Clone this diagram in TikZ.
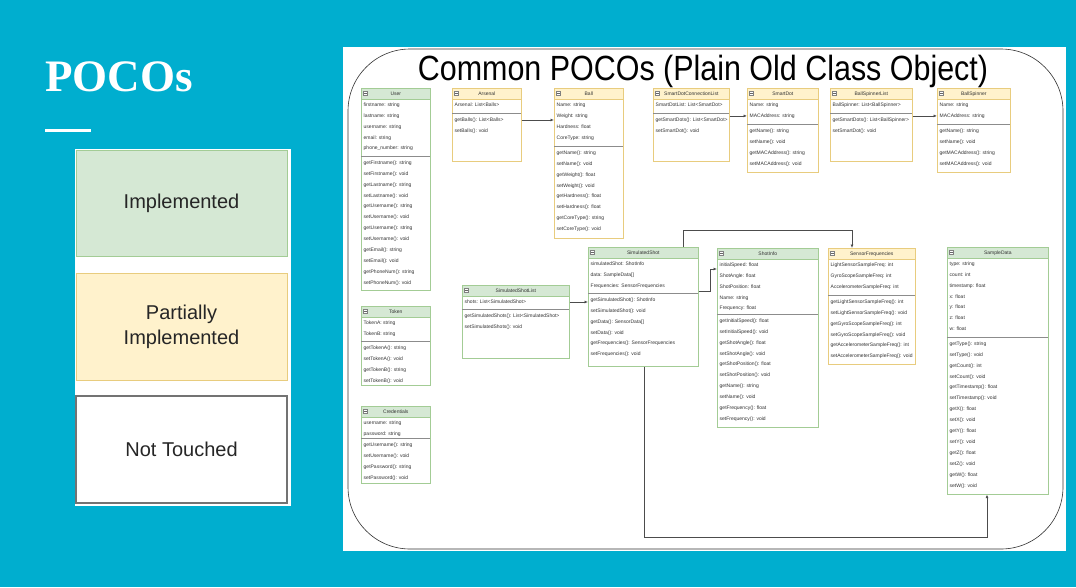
\documentclass[tikz,border=0pt]{standalone}
\usepackage{fontspec}
\usepackage{graphicx}
\setmainfont{Liberation Sans}
\newfontfamily\pocoserif{Liberation Serif}
\usetikzlibrary{arrows.meta,calc}

\definecolor{slidebg}{HTML}{00AECF}
\definecolor{grnfill}{HTML}{D5E8D4}
\definecolor{grnline}{HTML}{A3CC95}
\definecolor{ylwfill}{HTML}{FFF2CC}
\definecolor{ylwline}{HTML}{E8CC7E}
\definecolor{txt}{HTML}{333333}

\tikzset{
  clsbox/.style={draw=#1line, fill=white, line width=0.6, inner sep=0, anchor=north west},
  clshead/.style={draw=#1line, fill=#1fill, line width=0.6, inner sep=0, anchor=north west,
    minimum height=11, font=\fontsize{5}{6}\selectfont, text=txt},
  rowtext/.style={inner sep=0, anchor=west, font=\fontsize{5}{6}\selectfont, text=txt,
    text height=3.6, text depth=1},
  divline/.style={draw=black!45, line width=0.7},
  conn/.style={draw=black!70, line width=0.7, -{Latex[length=3.5,width=3]}},
  legbox/.style={inner sep=0, line width=1, font=\fontsize{20}{25}\selectfont, text=black!85,
    align=center},
}

\newcommand\umlclass[8]{%
  \def\uid{#1}\def\ucol{#2}\def\uxl{#3}\def\uxr{#4}\def\uyt{#5}\def\uyd{#6}\def\uyb{#7}\def\utitle{#8}%
  \umlclassrows}
\newcommand\umlclassrows[2]{%
  \pgfmathsetmacro\uw{\uxr-\uxl}\pgfmathsetmacro\uh{\uyb-\uyt}%
  \node[clsbox=\ucol, minimum width=\uw, minimum height=\uh] (\uid) at (\uxl,\uyt) {};
  \node[clshead=\ucol, minimum width=\uw] (\uid-h) at (\uxl,\uyt) {\utitle};
  \draw[fill=white, draw=black!50, line width=0.4] (\uxl+2.5,\uyt+3) rectangle (\uxl+6.5,\uyt+7);
  \draw[black!60, line width=0.5] (\uxl+3.3,\uyt+5) -- (\uxl+5.7,\uyt+5);
  \draw[divline] (\uxl,\uyd) -- (\uxr,\uyd);
  \foreach \t [count=\i] in {#1} \node[rowtext] (\uid-a\i) at (\uxl+2.5, {\uyt+17+(\i-1)*10.9}) {\t};
  \foreach \t [count=\i] in {#2} \node[rowtext] (\uid-m\i) at (\uxl+2.5, {\uyd+7+(\i-1)*10.9}) {\t};
}

\begin{document}
\begin{tikzpicture}[x=1pt,y=-1pt]
\useasboundingbox (0,0) rectangle (1076,587);
\fill[slidebg] (0,0) rectangle (1076,587);

% left side
\node[anchor=base west, text=white, font=\pocoserif\bfseries\fontsize{45}{50}\selectfont, inner sep=0] (pocos) at (45,91) {POCOs};
\fill[white] (45,129) rectangle (91,132);
\fill[white] (75,149) rectangle (291,506);
\node[legbox, fill=grnfill, draw=grnline, minimum width=211, minimum height=106] (impl) at (181.5,203) {Implemented};
\node[legbox, fill=ylwfill, draw=ylwline, minimum width=211, minimum height=107] (partial) at (181.5,326.5) {Partially\\Implemented};
\node[legbox, fill=white, draw=black!55, line width=1.5, minimum width=211, minimum height=107] (nottouched) at (181.5,449.5) {Not Touched};

% diagram panel
\fill[white] (343,47) rectangle (1066,551);
\draw[black!80, line width=0.6, rounded corners=62] (348,49) rectangle (1063,549);
\node[inner sep=0, text=black] (title) at (703,71) {\fontsize{35}{40}\selectfont\scalebox{0.87}[1]{Common POCOs (Plain Old Class Object)}};

\umlclass{user}{grn}{361}{430}{88}{156}{290}{User}
  {firstname: string, lastname: string, username: string, email: string, phone\_number: string}
  {getFirstname(): string, setFirstname(): void, getLastname(): string, setLastname(): void, getUsername(): string, setUsername(): void, getUsername(): string, setUsername(): void, getEmail(): string, setEmail(): void, getPhoneNum(): string, setPhoneNum(): void}

\umlclass{arsenal}{ylw}{452}{521}{88}{113}{161}{Arsenal}
  {Arsenal: List<Balls>}
  {getBalls(): List<Balls>, setBalls(): void}

\umlclass{ball}{ylw}{554}{623}{88}{146}{238}{Ball}
  {Name: string, Weight: string, Hardness: float, CoreType: string}
  {getName(): string, setName(): void, getWeight(): float, setWeight(): void, getHardness(): float, setHardness(): float, getCoreType(): string, setCoreType(): void}

\umlclass{sdcl}{ylw}{653}{729}{88}{113}{161}{SmartDotConnectionList}
  {SmartDotList: List<SmartDot>}
  {getSmartDots(): List<SmartDot>, setSmartDot(): void}

\umlclass{smartdot}{ylw}{747}{818}{88}{124}{172}{SmartDot}
  {Name: string, MACAddress: string}
  {getName(): string, setName(): void, getMACAddress(): string, setMACAddress(): void}

\umlclass{bsl}{ylw}{830}{912}{88}{113}{161}{BallSpinnerList}
  {BallSpinner: List<BallSpinner>}
  {getSmartDots(): List<BallSpinner>, setSmartDot(): void}

\umlclass{ballspinner}{ylw}{937}{1010}{88}{124}{172}{BallSpinner}
  {Name: string, MACAddress: string}
  {getName(): string, setName(): void, getMACAddress(): string, setMACAddress(): void}

\umlclass{token}{grn}{361}{430}{306}{341}{385}{Token}
  {TokenA: string, TokenB: string}
  {getTokenA(): string, setTokenA(): void, getTokenB(): string, setTokenB(): void}

\umlclass{cred}{grn}{361}{430}{406}{438}{483}{Credentials}
  {username: string, password: string}
  {getUsername(): string, setUsername(): void, getPassword(): string, setPassword(): void}

\umlclass{ssl}{grn}{462}{569}{285}{309}{358}{SimulatedShotList}
  {shots: List<SimulatedShot>}
  {getSimulatedShots(): List<SimulatedShot>, setSimulatedShots(): void}

\umlclass{simshot}{grn}{588}{698}{247}{293}{366}{SimulatedShot}
  {simulatedShot: ShotInfo, data: SampleData[], Frequencies: SensorFrequencies}
  {getSimulatedShot(): ShotInfo, setSimulatedShot(): void, getData(): SensorData[], setData(): void, getFrequencies(): SensorFrequencies, setFrequencies(): void}

\umlclass{shotinfo}{grn}{717}{818}{248}{314}{427}{ShotInfo}
  {initialSpeed: float, ShotAngle: float, ShotPosition: float, Name: string, Frequency: float}
  {getInitialSpeed(): float, setInitialSpeed(): void, getShotAngle(): float, setShotAngle(): void, getShotPosition(): float, setShotPosition(): void, getName(): string, setName(): void, getFrequency(): float, setFrequency(): void}

\umlclass{sensfreq}{ylw}{828}{915}{248}{295}{364}{SensorFrequencies}
  {LightSensorSampleFreq: int, GyroScopeSampleFreq: int, AccelerometerSampleFreq: int}
  {getLightSensorSampleFreq(): int, setLightSensorSampleFreq(): void, getGyroScopeSampleFreq(): int, setGyroScopeSampleFreq(): void, getAccelerometerSampleFreq(): int, setAccelerometerSampleFreq(): void}

\umlclass{sampledata}{grn}{947}{1048}{247}{337}{494}{SampleData}
  {type: string, count: int, timestamp: float, x: float, y: float, z: float, w: float}
  {getType(): string, setType(): void, getCount(): int, setCount(): void, getTimestamp(): float, setTimestamp(): void, getX(): float, setX(): void, getY(): float, setY(): void, getZ(): float, setZ(): void, getW(): float, setW(): void}

% connectors
\draw[conn] (arsenal-m1 -| arsenal.east) -- (arsenal-m1 -| ball.west);
\draw[conn] (smartdot-a2 -| sdcl.east) -- (smartdot-a2 -| smartdot.west);
\draw[conn] (ballspinner-a2 -| bsl.east) -- (ballspinner-a2 -| ballspinner.west);
\draw[conn] (ssl-a1 -| ssl.east) -- (ssl-a1 -| simshot.west);

\coordinate (b1) at (683,230);
\coordinate (b2) at (852,230);
\draw[conn] (b1 |- simshot.north) -- (b1) -- (b2) -- (b2 |- sensfreq.north);

\coordinate (b3) at (710,291);
\coordinate (b4) at (710,269);
\draw[conn] (b3 -| simshot.east) -- (b3) -- (b4) -- (b4 -| shotinfo.west);

\coordinate (b5) at (644,537);
\coordinate (b6) at (987,537);
\draw[conn] (b5 |- simshot.south) -- (b5) -- (b6) -- (b6 |- sampledata.south);
\end{tikzpicture}
\end{document}
